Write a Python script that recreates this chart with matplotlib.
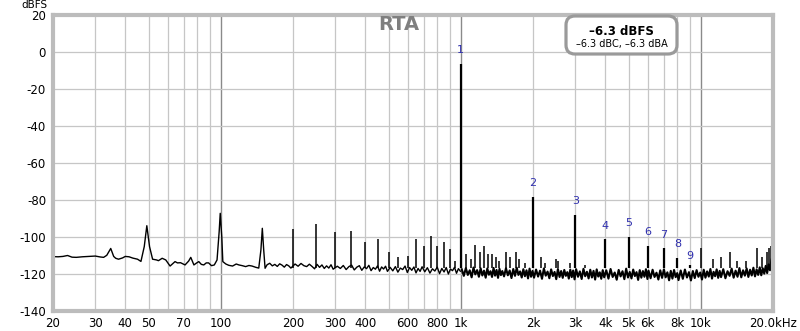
import matplotlib
matplotlib.use("Agg")
import matplotlib.pyplot as plt
from matplotlib.patches import FancyBboxPatch

plt.rcParams['font.family'] = ['DejaVu Sans']
plt.rcParams['axes.unicode_minus'] = False

# ---------------- data ----------------
# spectrum trace below 1 kHz (Hz, dBFS)
low_hz = [
    20, 21, 22, 23, 24, 25, 26.5, 28, 30, 31.5, 32.5, 33.5, 34.8, 35.8, 36.5, 37.5, 39, 40, 41.5, 43,
    45, 46.5, 48, 49.2, 50.5, 52, 54, 55, 57, 59, 61.5, 64.5, 66, 68, 71, 73.5, 75, 77.3, 79, 81,
    83, 85, 87, 89, 91.5, 94, 96.5, 98.5, 99.5, 101, 102, 105, 108, 112, 116, 119, 123, 127, 131, 135,
    140, 144, 147, 149, 151, 153,
    156, 160, 164, 168, 172, 176, 180, 184, 188, 192, 196,
    204, 210, 216, 222, 228, 234, 240, 246, 252, 258, 264, 270, 276, 282, 288, 294,
    306, 315, 324, 333, 342, 351, 360, 369, 378, 387, 396, 405, 414, 423, 432, 441, 450, 459, 468, 477, 486, 495,
    508, 521, 534, 547, 560, 573, 586, 599, 612, 625, 638, 651, 664, 677, 690,
    708, 726, 744, 762, 780, 798, 816, 834, 852, 870, 888, 906, 924, 942, 960, 978, 996,
]
low_db = [
    -110.6, -110.7, -110.5, -110.0, -110.9, -111.0, -110.7, -110.5, -110.3, -110.8, -111.0, -109.9, -106.2,
    -110.5, -111.5, -112.0, -111.3, -110.5, -110.7, -111.4, -112.0, -113.2, -105.2, -93.9, -105.2, -112.0,
    -112.4, -112.8, -111.5, -112.4, -115.7, -113.3, -114.0, -113.9, -115.1, -113.0, -111.0, -115.1, -114.2,
    -113.3, -114.8, -115.1, -114.0, -114.0, -115.5, -115.1, -112.4, -97.0, -87.2, -100.0, -113.3, -114.6,
    -115.3, -115.7, -114.6, -115.1, -115.5, -116.0, -115.4, -115.7, -116.4, -116.8, -107.0, -95.3, -107.0,
    -116.9,
    -115.0, -114.2, -115.6, -114.8, -115.9, -114.5, -115.2, -116.3, -114.9, -115.6, -116.8,
    -114.6, -115.8, -114.3, -115.5, -116.0, -114.7, -115.9, -117.2, -114.8, -116.4, -115.1, -117.0, -115.6,
    -116.8, -115.0, -117.4,
    -115.8, -117.0, -115.4, -117.6, -116.0, -115.2, -117.8, -116.3, -115.5, -118.0, -116.2, -117.1, -115.3,
    -118.2, -116.5, -117.4, -115.6, -118.5, -116.2, -117.3, -115.8, -118.6,
    -116.4, -118.3, -116.0, -119.0, -116.8, -117.6, -115.7, -119.2, -116.5, -118.0, -116.2, -119.4, -117.0,
    -118.6, -116.1,
    -118.8, -116.6, -119.5, -117.2, -118.4, -116.3, -119.8, -117.0, -118.9, -116.5, -120.0, -117.3, -118.2,
    -116.4, -119.6, -117.1, -118.5,
]

# spectrum trace above 1 kHz (dense noise band)
high_hz = [
    1010, 1030, 1050, 1070, 1090, 1110, 1130, 1150, 1170, 1190, 1210, 1230, 1250, 1270, 1290, 1310, 1330,
    1350, 1370, 1390, 1410, 1430, 1450, 1470, 1490,
    1515, 1543, 1571, 1599, 1627, 1655, 1683, 1711, 1739, 1767, 1795, 1823, 1851, 1879, 1907, 1935, 1963, 1991,
    2020, 2060, 2100, 2140, 2180, 2220, 2260, 2300, 2340, 2380, 2420, 2460, 2500, 2540, 2580, 2620, 2660,
    2700, 2740, 2780, 2820, 2860, 2900, 2940, 2980,
    3025, 3080, 3135, 3190, 3245, 3300, 3355, 3410, 3465, 3520, 3575, 3630, 3685, 3740, 3795, 3850, 3905, 3960,
    4040, 4125, 4210, 4295, 4380, 4465, 4550, 4635, 4720, 4805, 4890, 4975, 5060, 5145, 5230, 5315, 5400,
    5485, 5570, 5655, 5740, 5825, 5910, 5995,
    6060, 6180, 6300, 6420, 6540, 6660, 6780, 6900, 7020, 7140, 7260, 7380, 7500, 7620, 7740, 7860, 7980,
    8080, 8250, 8420, 8590, 8760, 8930, 9100, 9270, 9440, 9610, 9780, 9950, 10120, 10290, 10460, 10630,
    10800, 10970, 11140, 11310, 11480, 11650, 11820, 11990,
    12150, 12410, 12670, 12930, 13190, 13450, 13710, 13970, 14230, 14490, 14750, 15010, 15270, 15530,
    15790, 16050, 16310, 16570, 16830, 17090, 17350, 17610, 17870, 18130, 18390, 18650, 18910, 19170,
    19430, 19690, 19950,
]
high_db = [
    -117.5, -121.0, -116.8, -120.5, -118.0, -121.8, -116.5, -120.2, -117.9, -121.5, -116.9, -120.8, -118.2,
    -122.0, -117.0, -120.4, -118.5, -121.6, -116.7, -120.9, -117.8, -122.1, -117.2, -120.6, -118.4,
    -121.3, -116.9, -120.7, -118.1, -122.2, -117.3, -121.0, -116.6, -120.5, -118.6, -121.9, -117.4, -121.2,
    -118.0, -122.4, -117.1, -121.5, -118.3,
    -122.0, -117.6, -121.4, -118.2, -122.6, -117.0, -120.9, -118.7, -122.3, -117.5, -121.1, -118.9, -122.8,
    -117.3, -121.6, -118.4, -122.1, -117.8, -121.0, -119.0, -122.5, -117.6, -121.7, -118.1, -122.9,
    -117.4, -121.5, -118.6, -122.7, -117.2, -121.2, -118.8, -122.4, -117.7, -121.9, -118.3, -123.0, -117.5,
    -121.4, -119.1, -122.6, -117.9, -121.8,
    -118.0, -122.5, -117.3, -121.6, -119.2, -123.1, -117.8, -121.3, -118.5, -122.8, -117.1, -121.9, -118.9,
    -122.4, -117.6, -121.1, -119.0, -123.2, -117.9, -122.0, -118.4, -121.5, -117.4, -122.7,
    -118.2, -122.3, -117.7, -121.6, -119.3, -123.0, -118.0, -122.1, -117.5, -121.8, -119.1, -123.4, -118.3,
    -122.5, -117.8, -121.7, -119.5,
    -123.3, -118.1, -122.6, -117.6, -121.9, -119.0, -123.5, -118.4, -122.2, -117.9, -121.5, -119.2, -123.0,
    -117.7, -122.0, -118.6, -121.4, -117.3, -122.5, -118.8, -121.2, -117.5, -122.1, -118.3,
    -121.7, -117.4, -122.3, -118.5, -121.0, -117.1, -122.0, -118.2, -121.5, -116.8, -121.8, -118.0, -120.9,
    -117.0, -121.6, -117.7, -120.8, -116.6, -121.3, -117.5, -120.5, -116.4, -120.7, -116.9, -119.8, -115.6,
    -119.5, -114.8, -118.0, -112.5, -110.0,
]

# narrow spurs (Hz, dBFS)
spur_hz = [200, 250, 300, 350, 400, 450, 500, 550, 600, 650, 700, 750, 800, 850, 900, 950,
           1050, 1100, 1150, 1200, 1250, 1300, 1350, 1400, 1450, 1550, 1600, 1700, 1750, 1850,
           2150, 2250, 2500, 2550, 2850, 3300, 10000, 11200, 12100, 13200, 14200, 15500,
           17200, 18000, 18800, 19300, 19600, 19900]
spur_db = [-95.5, -93.2, -97.3, -96.9, -102.5, -101.2, -108.0, -111.0, -110.0, -101.2, -104.7, -99.3,
           -104.7, -102.9, -106.5, -113.0,
           -109.0, -112.0, -104.3, -108.0, -105.0, -109.0, -109.4, -111.0, -112.8, -108.0, -110.6,
           -108.0, -112.0, -114.0,
           -110.6, -114.0, -112.0, -113.0, -114.0, -115.0, -106.0, -112.0, -111.0, -108.0, -113.0,
           -113.0, -105.8, -111.0, -108.0, -106.0, -105.0, -105.5]

# fundamental and harmonics
harm_hz = [1000, 2000, 3000, 4000, 5000, 6000, 7000, 8000, 9000]
harm_db = [-6.3, -78.5, -88.3, -101.3, -99.8, -104.8, -106.2, -111.2, -115.0]
harm_labels = ["1", "2", "3", "4", "5", "6", "7", "8", "9"]

x_tick_hz = [20, 30, 40, 50, 70, 100, 200, 300, 400, 600, 800, 1000, 2000, 3000, 4000, 5000,
             6000, 8000, 10000, 20000]
x_tick_labels = ["20", "30", "40", "50", "70", "100", "200", "300", "400", "600", "800", "1k",
                 "2k", "3k", "4k", "5k", "6k", "8k", "10k", "20.0kHz"]
grid_hz = [30, 40, 50, 60, 70, 80, 90, 200, 300, 400, 500, 600, 700, 800, 900,
           2000, 3000, 4000, 5000, 6000, 7000, 8000, 9000]
decade_hz = [100, 1000, 10000]
y_ticks = [20, 0, -20, -40, -60, -80, -100, -120, -140]

# ---------------- figure ----------------
fig = plt.figure(figsize=(8, 3.31), dpi=100)
ax = fig.add_axes([53 / 800, 20 / 331, 720 / 800, 296 / 331])
ax.set_xscale('log')
ax.set_xlim(20, 20000)
ax.set_ylim(-140, 20)

for f in grid_hz:
    ax.axvline(f, color='#c6c6c6', lw=0.9, zorder=1)
for f in decade_hz:
    ax.axvline(f, color='#8a8a8a', lw=1.0, zorder=1)
for y in y_ticks:
    ax.axhline(y, color='#c6c6c6', lw=0.9, zorder=1)

ax.plot(low_hz, low_db, color='black', lw=1.0, zorder=3)
ax.plot(high_hz, high_db, color='black', lw=1.5, zorder=3)
ax.vlines(spur_hz, -117, spur_db, color='black', lw=1.1, zorder=3)
ax.vlines(harm_hz, -117, harm_db, color='black', lw=1.6, zorder=4)

offsets = [10, 10, 10, 10, 10, 10, 10, 10, 6]
for f, d, lab, off in zip(harm_hz, harm_db, harm_labels, offsets):
    ax.annotate(lab, (f, d), xytext=(0, off), textcoords='offset points',
                ha='center', va='center', fontsize=8, color='#2f2fae',
                annotation_clip=False, zorder=5)

ax.set_xticks(x_tick_hz)
ax.set_xticklabels(x_tick_labels)
ax.xaxis.set_minor_locator(matplotlib.ticker.NullLocator())
ax.set_yticks(y_ticks)
ax.set_yticklabels([str(v) for v in y_ticks])
ax.tick_params(axis='both', length=0, labelsize=8.5, colors='black')
ax.tick_params(axis='x', pad=4)
ax.tick_params(axis='y', pad=5)

for s in ax.spines.values():
    s.set_color('#bcbcbc')
    s.set_linewidth(3)
    s.set_zorder(6)

fig.text(48 / 800, 1 - 8.5 / 331, "dBFS", ha='right', va='baseline', fontsize=7.5)
fig.text(399 / 800, 1 - 25 / 331, "RTA", ha='center', va='center', fontsize=14,
         fontweight='bold', color='#7f7f7f')

box = FancyBboxPatch((5.66, 2.77), 1.11, 0.38, boxstyle="round,pad=0,rounding_size=0.09",
                     transform=fig.dpi_scale_trans, facecolor='white', edgecolor='#9a9a9a',
                     lw=2.3, zorder=10)
fig.patches.append(box)
fig.text(621.5 / 800, 1 - 31.5 / 331, "–6.3 dBFS", ha='center', va='center', fontsize=8.5,
         fontweight='bold', zorder=11)
fig.text(621.5 / 800, 1 - 44.5 / 331, "–6.3 dBC, –6.3 dBA", ha='center', va='center', fontsize=7,
         zorder=11)

fig.savefig('out.png', dpi=100)
